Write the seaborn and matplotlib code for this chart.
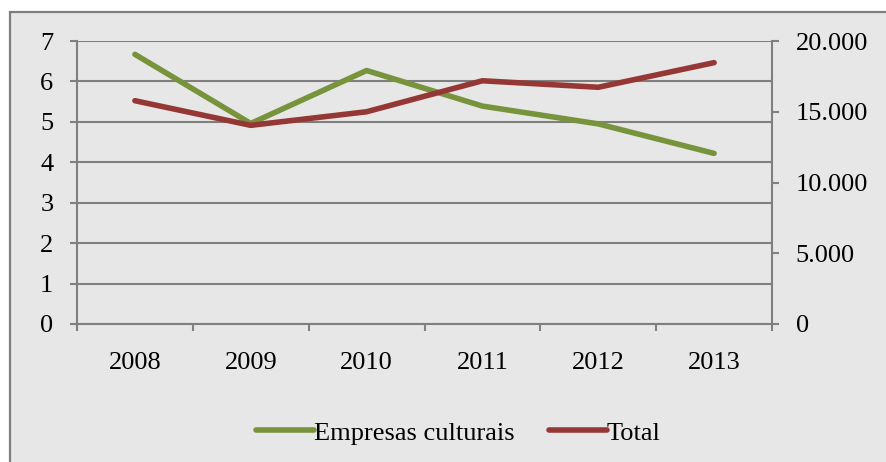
import matplotlib
matplotlib.use("Agg")
import matplotlib.pyplot as plt
from matplotlib.patches import Rectangle
from matplotlib.ticker import FixedLocator, FuncFormatter
import seaborn as sns
import pandas as pd

anos = ["2008", "2009", "2010", "2011", "2012", "2013"]
empresas_culturais = [6.67, 4.96, 6.27, 5.39, 4.95, 4.22]
total = [15780, 14040, 15000, 17190, 16730, 18470]

df = pd.DataFrame({"Ano": anos, "Empresas culturais": empresas_culturais, "Total": total})

sns.set_style("white")
plt.rcParams["font.family"] = ["Liberation Serif", "DejaVu Serif"]
plt.rcParams["text.color"] = "black"
plt.rcParams["xtick.color"] = "black"
plt.rcParams["ytick.color"] = "black"

verde = "#77933c"
vermelho = "#953735"
cinza = "#7f7f7f"
fundo = "#e7e7e7"
fs = 19

fig = plt.figure(figsize=(8.86, 4.62), dpi=100)
fig.patch.set_facecolor("white")
# moldura cinza do grafico
fig.patches.append(Rectangle((10 / 886, -0.05), 1.0, (462 - 12) / 462 + 0.05,
                             transform=fig.transFigure, facecolor=fundo,
                             edgecolor=cinza, linewidth=1.6, zorder=-10))

ax = fig.add_axes([77 / 886, (462 - 324) / 462, (772 - 77) / 886, (324 - 41) / 462])
ax.set_facecolor("none")
ax2 = ax.twinx()

sns.lineplot(data=df, x="Ano", y="Empresas culturais", ax=ax, color=verde,
             linewidth=4, label="Empresas culturais", legend=False)
sns.lineplot(data=df, x="Ano", y="Total", ax=ax2, color=vermelho,
             linewidth=4, label="Total", legend=False)

ax.set_xlim(-0.5, len(anos) - 0.5)
ax.set_ylim(0, 7)
ax2.set_ylim(0, 20000)

ax.set_yticks(range(0, 8))
ax2.set_yticks([0, 5000, 10000, 15000, 20000])
ax2.yaxis.set_major_formatter(FuncFormatter(lambda v, p: f"{int(v):,}".replace(",", ".")))

ax.set_xticks(range(len(anos)))
ax.set_xticklabels(anos)
ax.xaxis.set_minor_locator(FixedLocator([i - 0.5 for i in range(len(anos) + 1)]))

ax.grid(axis="y", color=cinza, linewidth=1.5)
ax.set_axisbelow(True)

for a in (ax, ax2):
    for s in a.spines.values():
        s.set_visible(False)
    a.set_xlabel("")
    a.set_ylabel("")
ax.spines["left"].set_visible(True)
ax.spines["bottom"].set_visible(True)
ax2.spines["right"].set_visible(True)
for s in (ax.spines["left"], ax.spines["bottom"], ax2.spines["right"]):
    s.set_color(cinza)
    s.set_linewidth(1.5)

ax.tick_params(axis="y", length=5, width=1.5, color=cinza, pad=12, labelsize=fs,
               left=True, labelcolor="black")
ax2.tick_params(axis="y", length=5, width=1.5, color=cinza, pad=12, labelsize=fs,
                right=True, labelcolor="black")
ax.tick_params(axis="x", which="major", length=0, pad=20, labelsize=fs, labelcolor="black")
ax.tick_params(axis="x", which="minor", length=5, width=1.5, color=cinza, bottom=True)

h1, l1 = ax.get_legend_handles_labels()
h2, l2 = ax2.get_legend_handles_labels()
fig.legend(h1 + h2, l1 + l2, loc="center", bbox_to_anchor=(0.517, 0.063), ncol=2,
           frameon=False, fontsize=fs, handlelength=2.2, handletextpad=0.0,
           columnspacing=1.3)

fig.savefig("out.png", dpi=100)
